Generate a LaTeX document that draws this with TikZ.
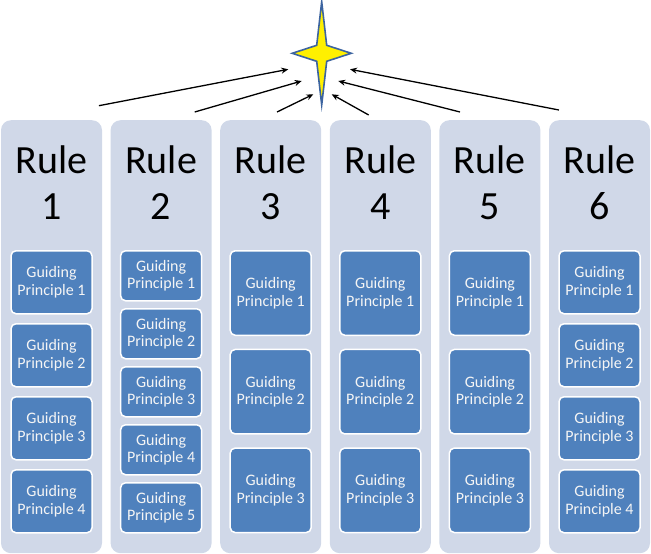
\documentclass[tikz,border=0pt]{standalone}
\usepackage{fontspec}
\setmainfont{Carlito}
\usetikzlibrary{arrows.meta}
\definecolor{colfill}{RGB}{208,216,232}
\definecolor{boxfill}{RGB}{79,129,189}
\definecolor{starfill}{RGB}{255,240,0}
\definecolor{starline}{RGB}{60,100,160}
\definecolor{boxtext}{RGB}{245,245,245}
\begin{document}
\begin{tikzpicture}[x=1pt,y=-1pt,
  column/.style={fill=colfill, draw=none, rounded corners=10pt, minimum width=101pt, inner sep=0pt, anchor=north},
  gp/.style={fill=boxfill, draw=white, line width=1.5pt, rounded corners=5pt, minimum width=81pt, inner sep=0pt,
     text=boxtext, align=center, font=\fontsize{16}{17.5}\selectfont, anchor=north},
  ruletext/.style={font=\fontsize{40}{46}\selectfont, anchor=base, inner sep=0pt},
  arr/.style={line width=1.3pt, -{Stealth[length=7pt,width=6pt]}}]
\useasboundingbox (0,0) rectangle (651,554);
% columns
\foreach \i in {1,...,6}{
  \pgfmathsetmacro{\cx}{51.5+109.6*(\i-1)}
  \node[column, minimum height=433pt] (col\i) at (\cx,120) {};
  \node[ruletext] (rule\i) at (\cx,173.3) {Rule};
  \node[ruletext] (num\i) at (\cx,219.3) {\i};
}
% column 1 and 6: four boxes
\foreach \c in {1,6}{
  \foreach \k/\t in {1/250,2/323,3/396,4/469}{
    \pgfmathsetmacro{\cx}{51.5+109.6*(\c-1)}
    \node[gp, minimum height=63pt] (b\c\k) at (\cx,\t) {Guiding\\Principle \k};
  }
}
% column 2: five boxes
\foreach \k/\t in {1/250,2/308,3/366,4/424,5/482}{
  \node[gp, minimum height=50pt] (b2\k) at (161.1,\t) {Guiding\\Principle \k};
}
% columns 3-5: three boxes
\foreach \c in {3,4,5}{
  \foreach \k/\t in {1/250,2/348.7,3/447.3}{
    \pgfmathsetmacro{\cx}{51.5+109.6*(\c-1)}
    \node[gp, minimum height=84.5pt] (b\c\k) at (\cx,\t) {Guiding\\Principle \k};
  }
}
% star
\coordinate (star) at (321.7,53.3);
\draw[starline, fill=starfill, line width=1.6pt, line join=miter]
  (star) ++(0,-51.6) -- ++(5,43.6) -- ++(24.5,8) -- ++(-24.5,8) -- ++(-5,43.6)
  -- ++(-5,-43.6) -- ++(-24.5,-8) -- ++(24.5,-8) -- cycle;
% arrows
\coordinate (s1) at (98.9,105.7);
\coordinate (s2) at (194.7,112);
\coordinate (s3) at (277,112);
\coordinate (s4) at (368.7,115);
\coordinate (s5) at (460,112);
\coordinate (s6) at (558.9,110);
\coordinate (e1) at (288.3,69.3);
\coordinate (e2) at (301.7,81);
\coordinate (e3) at (313.3,94.3);
\coordinate (e4) at (331.7,94.3);
\coordinate (e5) at (338.3,81);
\coordinate (e6) at (350,69.3);
\foreach \a in {1,...,6}{
  \draw[arr] (s\a) -- (e\a);
}
\end{tikzpicture}
\end{document}
